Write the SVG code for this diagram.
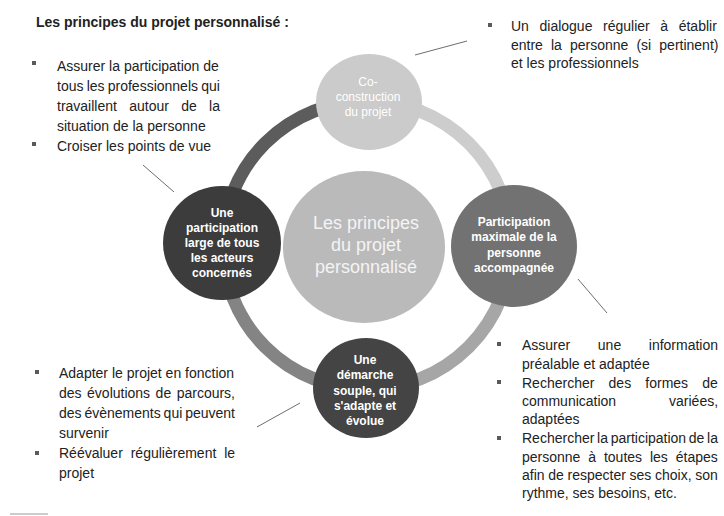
<svg xmlns="http://www.w3.org/2000/svg" width="724" height="516" viewBox="0 0 724 516">
  <style>
    .body { font-family: "Liberation Sans", Arial, sans-serif; font-size: 14px; fill: #222222; }
    .title { font-family: "Liberation Sans", Arial, sans-serif; font-size: 14px; font-weight: bold; fill: #222222; }
    .ntext { font-family: "Liberation Sans", Arial, sans-serif; font-size: 12px; font-weight: bold; fill: #ffffff; text-anchor: middle; }
    .ctext { font-family: "Liberation Sans", Arial, sans-serif; font-size: 18px; fill: #f4f4f4; text-anchor: middle; }
    .bullet { fill: #5a5a5a; }
    .leader { stroke: #6e6e6e; stroke-width: 1; fill: none; }
    .arc { fill: none; stroke-width: 13; }
  </style>
  <rect width="724" height="516" fill="#ffffff"/>

  <!-- title -->
  <text class="title" x="36" y="27">Les principes du projet personnalisé :</text>

  <!-- ring connectors -->
  <g id="connectors">
    <path class="arc" stroke="#5c5c5c" d="M367,101 A144,144 0 0 0 223,245"/>
    <path class="arc" stroke="#cdcdcd" d="M367,101 A144,144 0 0 1 511,245"/>
    <path class="arc" stroke="#a6a6a6" d="M511,245 A144,144 0 0 1 367,389"/>
    <path class="arc" stroke="#848484" d="M223,245 A144,144 0 0 0 367,389"/>
    <line class="leader" x1="415" y1="55" x2="467" y2="41"/>
    <line class="leader" x1="143" y1="165" x2="174" y2="192"/>
    <line class="leader" x1="257" y1="427" x2="300" y2="403"/>
    <line class="leader" x1="578" y1="279" x2="607" y2="313"/>
  </g>

  <!-- center -->
  <g id="node-center">
    <ellipse cx="364" cy="247" rx="81" ry="76" fill="#bababa"/>
    <text class="ctext" x="366" y="229">Les principes</text>
    <text class="ctext" x="366" y="251">du projet</text>
    <text class="ctext" x="366" y="273">personnalisé</text>
  </g>

  <g id="node-top">
    <ellipse cx="369" cy="102" rx="53" ry="48" fill="#cbcbcb"/>
    <text class="ntext" x="368" y="86" style="font-weight:normal">Co-</text>
    <text class="ntext" x="368" y="101" style="font-weight:normal">construction</text>
    <text class="ntext" x="368" y="116" style="font-weight:normal">du projet</text>
  </g>

  <g id="node-left">
    <ellipse cx="222" cy="243" rx="59" ry="57" fill="#3c3c3c"/>
    <text class="ntext" x="222" y="217">Une</text>
    <text class="ntext" x="222" y="232">participation</text>
    <text class="ntext" x="222" y="247">large de tous</text>
    <text class="ntext" x="222" y="262">les acteurs</text>
    <text class="ntext" x="222" y="277">concernés</text>
  </g>

  <g id="node-right">
    <ellipse cx="514" cy="246" rx="63" ry="61" fill="#727272"/>
    <text class="ntext" x="514" y="226">Participation</text>
    <text class="ntext" x="514" y="241">maximale de la</text>
    <text class="ntext" x="514" y="257">personne</text>
    <text class="ntext" x="514" y="272">accompagnée</text>
  </g>

  <g id="node-bottom">
    <ellipse cx="366" cy="388" rx="53" ry="50" fill="#444444"/>
    <text class="ntext" x="365" y="364">Une</text>
    <text class="ntext" x="365" y="379">démarche</text>
    <text class="ntext" x="365" y="395">souple, qui</text>
    <text class="ntext" x="365" y="410">s'adapte et</text>
    <text class="ntext" x="365" y="425">évolue</text>
  </g>

  <!-- top-left notes -->
  <g id="notes-top-left">
    <rect class="bullet" x="32" y="61" width="4" height="4"/>
    <rect class="bullet" x="32" y="142" width="4" height="4"/>
    <text class="body" x="57" y="71">Assurer la participation de</text>
    <text class="body" x="57" y="91" style="word-spacing:-0.7px">tous les professionnels qui</text>
    <text class="body" x="57" y="111" style="word-spacing:8.4px">travaillent autour de la</text>
    <text class="body" x="57" y="131">situation de la personne</text>
    <text class="body" x="57" y="151">Croiser les points de vue</text>
  </g>

  <!-- top-right notes -->
  <g id="notes-top-right">
    <rect class="bullet" x="488" y="23" width="4" height="4"/>
    <text class="body" x="511" y="31" style="word-spacing:6.7px">Un dialogue régulier à établir</text>
    <text class="body" x="511" y="50" style="word-spacing:4.2px">entre la personne (si pertinent)</text>
    <text class="body" x="511" y="68">et les professionnels</text>
  </g>

  <!-- bottom-left notes -->
  <g id="notes-bottom-left">
    <rect class="bullet" x="35" y="370" width="4" height="4"/>
    <rect class="bullet" x="35" y="451" width="4" height="4"/>
    <text class="body" x="59" y="378">Adapter le projet en fonction</text>
    <text class="body" x="59" y="398" style="word-spacing:1.6px">des évolutions de parcours,</text>
    <text class="body" x="59" y="418" style="word-spacing:-1px">des évènements qui peuvent</text>
    <text class="body" x="59" y="438">survenir</text>
    <text class="body" x="59" y="458" style="word-spacing:4px">Réévaluer régulièrement le</text>
    <text class="body" x="59" y="478">projet</text>
  </g>

  <!-- bottom-right notes -->
  <g id="notes-bottom-right">
    <rect class="bullet" x="497" y="342" width="4" height="4"/>
    <rect class="bullet" x="497" y="380" width="4" height="4"/>
    <rect class="bullet" x="497" y="436" width="4" height="4"/>
    <text class="body" x="522" y="350" style="word-spacing:23.7px">Assurer une information</text>
    <text class="body" x="522" y="369">préalable et adaptée</text>
    <text class="body" x="522" y="388" style="word-spacing:10.3px">Rechercher des formes de</text>
    <text class="body" x="522" y="406" style="word-spacing:49px">communication variées,</text>
    <text class="body" x="522" y="424">adaptées</text>
    <text class="body" x="522" y="443" style="word-spacing:-1.2px">Rechercher la participation de la</text>
    <text class="body" x="522" y="462" style="word-spacing:4px">personne à toutes les étapes</text>
    <text class="body" x="522" y="480" style="word-spacing:-0.2px">afin de respecter ses choix, son</text>
    <text class="body" x="522" y="498">rythme, ses besoins, etc.</text>
  </g>

  <line x1="10" y1="514" x2="48" y2="514" stroke="#9a9a9a" stroke-width="1"/>
</svg>
